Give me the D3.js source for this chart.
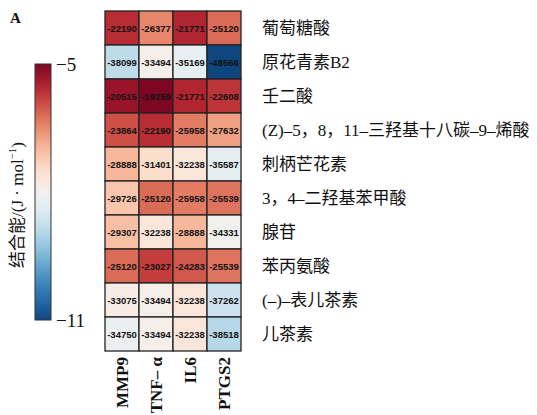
<!DOCTYPE html>
<html>
<head>
<meta charset="utf-8">
<script src="https://cdn.jsdelivr.net/npm/d3@7"></script>
<style>
  body { margin: 0; background: #fff; }
  svg { display: block; }
</style>
</head>
<body>
<svg id="chart" width="537" height="415"></svg>
<script>
(function(d3) {
	'use strict';

	var compounds = ['葡萄糖酸', '原花青素B2', '壬二酸', '(Z)–5，8，11–三羟基十八碳–9–烯酸', '刺柄芒花素',
		'3，4–二羟基苯甲酸', '腺苷', '苯丙氨酸', '(–)–表儿茶素', '儿茶素'];
	var targets = ['MMP9', 'TNF– α', 'IL6', 'PTGS2'];
	var mmp9 = [-22190, -38099, -20515, -23864, -28888, -29726, -29307, -25120, -33075, -34750];
	var tnf = [-26377, -33494, -19259, -22190, -31401, -25120, -32238, -23027, -33494, -33494];
	var il6 = [-21771, -35169, -21771, -25958, -32238, -25958, -28888, -24283, -32238, -32238];
	var ptgs2 = [-25120, -48566, -22608, -27632, -35587, -25539, -34331, -25539, -37262, -38518];
	var legendTicks = [-5, -11];

	var svg = d3.select('#chart');
	var serif = '"Liberation Serif", "Noto Sans CJK SC", serif';

	var cells = [];
	[mmp9, tnf, il6, ptgs2].forEach(function(series, j) {
		series.forEach(function(v, i) {
			cells.push({ row: compounds[i], col: targets[j], value: v });
		});
	});

	// slightly softened RdBu, the printed figure is a bit paler at the ends
	var ramp = function(t) { return d3.interpolateRdBu(0.03 + t * 0.93); };

	/** heatmap */
	var x = d3.scaleBand().domain(targets).range([105, 241]);
	var y = d3.scaleBand().domain(compounds).range([11, 351]);
	var allValues = cells.map(function(c) { return c.value; });
	var color = d3.scaleSequential(ramp).domain([d3.max(allValues), d3.min(allValues)]);

	var g = svg.append('g');
	g.selectAll('rect').data(cells).enter().append('rect')
		.attr('x', function(d) { return x(d.col); })
		.attr('y', function(d) { return y(d.row); })
		.attr('width', x.bandwidth())
		.attr('height', y.bandwidth())
		.attr('fill', function(d) { return color(d.value); })
		.attr('stroke', '#222')
		.attr('stroke-width', 1.3);

	g.selectAll('text.val').data(cells).enter().append('text')
		.attr('class', 'val')
		.attr('x', function(d) { return x(d.col) + x.bandwidth() / 2; })
		.attr('y', function(d) { return y(d.row) + y.bandwidth() / 2 + 3.5; })
		.attr('text-anchor', 'middle')
		.attr('font-family', 'Arial, "Liberation Sans", sans-serif')
		.attr('font-size', 9.5)
		.attr('font-weight', 'bold')
		.attr('fill', '#111')
		.text(function(d) { return d.value; });

	// row labels
	g.selectAll('text.row').data(compounds).enter().append('text')
		.attr('class', 'row')
		.attr('x', 262)
		.attr('y', function(d) { return y(d) + y.bandwidth() / 2 + 6; })
		.attr('font-family', serif)
		.attr('font-size', 17)
		.attr('fill', '#111')
		.text(function(d) { return d; });

	// column labels
	g.selectAll('text.col').data(targets).enter().append('text')
		.attr('class', 'col')
		.attr('transform', function(d) {
			return 'translate(' + (x(d) + x.bandwidth() / 2 + 6) + ',357) rotate(-90)';
		})
		.attr('text-anchor', 'end')
		.attr('font-family', serif)
		.attr('font-size', 17)
		.attr('font-weight', 'bold')
		.attr('fill', '#111')
		.text(function(d) { return d; });

	/** colour bar */
	var barTop = 64, barBottom = 320, barX = 35, barW = 16;
	var legendScale = d3.scaleLinear().domain(legendTicks).range([barTop, barBottom]);
	var defs = svg.append('defs');
	var grad = defs.append('linearGradient').attr('id', 'bar-grad')
		.attr('x1', 0).attr('y1', 0).attr('x2', 0).attr('y2', 1);
	d3.range(0, 1.0001, 0.05).forEach(function(t) {
		grad.append('stop').attr('offset', t).attr('stop-color', ramp(t));
	});
	svg.append('rect')
		.attr('x', barX).attr('y', barTop)
		.attr('width', barW).attr('height', barBottom - barTop)
		.attr('fill', 'url(#bar-grad)')
		.attr('stroke', '#333').attr('stroke-width', 1);

	svg.selectAll('text.tick').data(legendTicks).enter().append('text')
		.attr('class', 'tick')
		.attr('x', barX + barW + 5)
		.attr('y', function(d) { return legendScale(d) + 7; })
		.attr('font-family', serif)
		.attr('font-size', 19)
		.attr('fill', '#111')
		.text(function(d) { return '−' + Math.abs(d); });

	var title = svg.append('text')
		.attr('transform', 'translate(23,205) rotate(-90)')
		.attr('text-anchor', 'middle')
		.attr('font-family', serif)
		.attr('font-size', 17)
		.attr('fill', '#111');
	title.append('tspan').text('结合能/(J · mol');
	title.append('tspan').attr('font-size', 11).attr('dy', -7).text('−1');
	title.append('tspan').attr('dy', 7).text(')');

	svg.append('text')
		.attr('x', 10).attr('y', 23)
		.attr('font-family', serif)
		.attr('font-size', 15)
		.attr('font-weight', 'bold')
		.attr('fill', '#111')
		.text('A');
})(d3);
</script>
</body>
</html>
